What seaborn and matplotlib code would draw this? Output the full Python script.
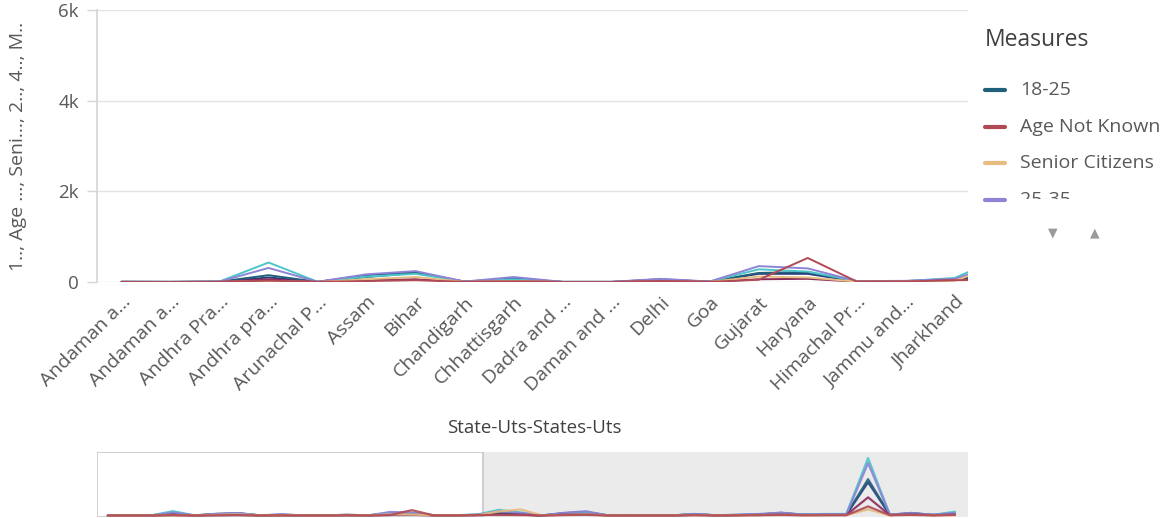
import numpy as np
import pandas as pd
import matplotlib
matplotlib.use("Agg")
import matplotlib.pyplot as plt
import seaborn as sns
from matplotlib.lines import Line2D
from matplotlib.patches import Rectangle

# ---- data -------------------------------------------------------------
states = [
    "Andaman and Nicobar", "Andaman and N Islands", "Andhra Pradesh", "Andhra pradesh",
    "Arunachal Pradesh", "Assam", "Bihar", "Chandigarh", "Chhattisgarh",
    "Dadra and Nagar Haveli", "Daman and Diu", "Delhi", "Goa", "Gujarat", "Haryana",
    "Himachal Pradesh", "Jammu and Kashmir", "Jharkhand", "Karnataka", "Kerala",
    "Lakshadweep", "Madhya Pradesh", "Maharashtra", "Manipur", "Meghalaya", "Mizoram",
    "Nagaland", "Odisha", "Puducherry", "Punjab", "Rajasthan", "Sikkim", "Tamil Nadu",
    "Telangana", "Tripura", "Uttar Pradesh", "Uttarakhand", "Uttrakhand",
    "West Bengal", "West bengal",
]
tick_labels = [
    "Andaman a…", "Andaman a…", "Andhra Pra…", "Andhra pra…", "Arunachal P…",
    "Assam", "Bihar", "Chandigarh", "Chhattisgarh", "Dadra and …", "Daman and …",
    "Delhi", "Goa", "Gujarat", "Haryana", "Himachal Pr…", "Jammu and…", "Jharkhand",
]

age_45_60 = [5, 3, 10, 430, 5, 120, 180, 10, 60, 3, 3, 40, 10, 280, 230, 20, 20, 90, 560, 300,
             2, 180, 300, 15, 10, 5, 5, 120, 20, 60, 120, 200, 100, 150, 150, 5700, 80, 200, 60, 380]
age_25_35 = [5, 3, 10, 310, 5, 170, 240, 10, 110, 3, 3, 70, 10, 350, 300, 20, 25, 70, 420, 250,
             2, 260, 420, 15, 10, 5, 5, 150, 20, 70, 150, 280, 90, 120, 120, 5200, 100, 220, 80, 250]
age_18_25 = [4, 2, 8, 150, 4, 110, 200, 8, 50, 2, 2, 40, 8, 200, 220, 15, 20, 60, 300, 200,
             2, 200, 330, 12, 8, 4, 4, 110, 15, 50, 100, 220, 80, 100, 100, 3600, 70, 180, 50, 150]
minors = [3, 2, 6, 100, 3, 150, 220, 6, 80, 2, 2, 60, 6, 180, 180, 12, 15, 50, 200, 120,
          1, 230, 350, 10, 6, 3, 3, 130, 12, 40, 90, 260, 60, 80, 80, 3300, 60, 250, 40, 120]
age_35_45 = [2, 1, 4, 60, 2, 40, 60, 4, 20, 1, 1, 20, 4, 60, 70, 8, 10, 40, 100, 80,
             1, 80, 120, 6, 4, 2, 2, 50, 8, 30, 50, 90, 40, 50, 50, 1800, 40, 100, 30, 80]
senior = [1, 1, 3, 20, 1, 60, 110, 3, 20, 1, 1, 10, 3, 120, 100, 8, 8, 30, 400, 600,
          1, 50, 100, 3, 2, 1, 1, 40, 5, 30, 40, 60, 30, 40, 40, 600, 20, 50, 15, 40]
not_known = [2, 1, 3, 30, 2, 20, 40, 3, 15, 1, 1, 20, 3, 50, 530, 10, 10, 40, 50, 40,
             1, 40, 60, 4, 3, 2, 2, 30, 5, 20, 30, 50, 20, 30, 30, 900, 30, 60, 20, 50]

series = {
    "Minors": minors,
    "18-25": age_18_25,
    "45-60": age_45_60,
    "25-35": age_25_35,
    "35-45": age_35_45,
    "Senior Citizens": senior,
    "Age Not Known": not_known,
}
colors = {
    "45-60": "#4cc6c8",
    "25-35": "#8d84d6",
    "18-25": "#21607a",
    "Minors": "#2b3c7e",
    "35-45": "#8a2a5a",
    "Senior Citizens": "#e6bc82",
    "Age Not Known": "#b04a55",
}
legend_items = ["18-25", "Age Not Known", "Senior Citizens", "25-35"]

rows = []
for name, vals in series.items():
    for i, v in enumerate(vals):
        rows.append({"idx": i, "state": states[i], "measure": name, "value": v})
df = pd.DataFrame(rows)

# ---- figure -----------------------------------------------------------
sns.set_theme(style="white")
plt.rcParams["font.family"] = ["Open Sans", "DejaVu Sans"]
W, H = 1174, 518
fig = plt.figure(figsize=(W / 100, H / 100), dpi=100)
txt = "#595959"

def fx(px):
    return px / W

def fy(py):
    return 1 - py / H

# main chart
ax = fig.add_axes([fx(97), fy(282), fx(968 - 97), (282 - 10) / H])
sns.lineplot(data=df, x="idx", y="value", hue="measure", palette=colors,
             hue_order=list(series.keys()), ax=ax, legend=False, linewidth=1.4)
ax.set_xlim(-0.5, 17.27)
ax.set_ylim(0, 6000)
ax.set_yticks([0, 2000, 4000, 6000])
ax.set_yticklabels(["0", "2k", "4k", "6k"])
ax.set_xticks(range(len(tick_labels)))
ax.set_xticklabels(tick_labels, rotation=45, ha="right", rotation_mode="anchor")
ax.tick_params(axis="x", length=0, pad=8, labelsize=14, labelcolor=txt)
ax.tick_params(axis="y", left=True, length=7, width=1, color="#d6d6d6", pad=6,
               labelsize=13.5, labelcolor=txt)
ax.grid(axis="y", color="#e3e3e3", linewidth=1)
ax.set_axisbelow(True)
for s in ["top", "right", "bottom"]:
    ax.spines[s].set_visible(False)
ax.spines["left"].set_color("#d6d6d6")
ax.set_xlabel("")
ax.set_ylabel("")

fig.text(fx(18), fy(146), "1.., Age ..., Seni..., 2.., 4.., M..", rotation=90,
         ha="center", va="center", fontsize=14, color=txt)
fig.text(fx(534), fy(428), "State-Uts-States-Uts", ha="center", va="center",
         fontsize=13.5, color="#404040")

# mini navigator chart
ax2 = fig.add_axes([fx(97), fy(517), fx(968 - 97), (517 - 452) / H])
ax2.set_facecolor("#ebebeb")
ax2.axvspan(-0.5, 17.27, facecolor="white", edgecolor="#c8c8c8", linewidth=1.2, zorder=0)
sns.lineplot(data=df, x="idx", y="value", hue="measure", palette=colors,
             hue_order=list(series.keys()), ax=ax2, legend=False, linewidth=1.6, alpha=0.9)
ax2.set_xlim(-0.5, 39.6)
ax2.set_ylim(-150, 6300)
ax2.set_xticks([])
ax2.set_yticks([])
ax2.set_xlabel("")
ax2.set_ylabel("")
for s in ax2.spines.values():
    s.set_visible(False)

# legend
fig.text(fx(985), fy(40), "Measures", ha="left", va="center", fontsize=16.5, color="#404040")
for k, name in enumerate(legend_items):
    y = 90 + k * 36.7
    fig.add_artist(Line2D([fx(985), fx(1005)], [fy(y), fy(y)], color=colors[name],
                          linewidth=3, solid_capstyle="round"))
    fig.text(fx(1020), fy(y), name, ha="left", va="center", fontsize=14, color=txt)
# last entry is cut off by the legend viewport
fig.add_artist(Rectangle((fx(1010), fy(222)), fx(164), (222 - 199) / H,
                         facecolor="white", edgecolor="none", zorder=10))
fig.text(fx(1053), fy(233), "▼", ha="center", va="center", fontsize=9,
         color="#9a9a9a", family="DejaVu Sans", zorder=11)
fig.text(fx(1095), fy(233), "▲", ha="center", va="center", fontsize=9,
         color="#9a9a9a", family="DejaVu Sans", zorder=11)

fig.savefig("out.png", dpi=100)
